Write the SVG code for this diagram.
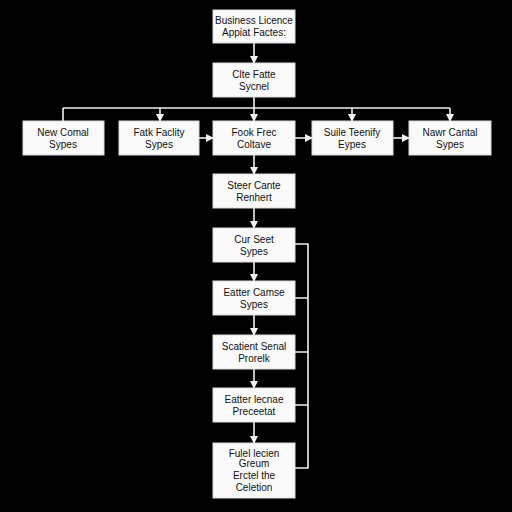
<svg xmlns="http://www.w3.org/2000/svg" width="512" height="512" viewBox="0 0 512 512">
<defs>
<marker id="ah" markerWidth="8" markerHeight="8" refX="7" refY="4" orient="auto" markerUnits="userSpaceOnUse">
<path d="M0,0 L8,4 L0,8 Z" fill="#f2f2f2"/>
</marker>
<style>
.box{fill:#fafafa;stroke:#dcdcdc;stroke-width:1}
.t{font-family:"Liberation Sans","DejaVu Sans",sans-serif;font-size:10px;fill:#111;text-anchor:middle}
.c{stroke:#f0f0f0;stroke-width:1.6;fill:none}
.a{marker-end:url(#ah)}
</style>
</defs>
<rect width="512" height="512" fill="#000"/>
<g id="connectors">
<path class="c a" d="M254,43 V63"/>
<path class="c" d="M254,97 V108 M63,108 H450 M63,108 V121"/>
<path class="c a" d="M160,108 V121"/>
<path class="c a" d="M254,108 V121"/>
<path class="c a" d="M352,108 V121"/>
<path class="c a" d="M450,108 V121"/>
<path class="c a" d="M199,138 H213"/>
<path class="c a" d="M295,138 H312"/>
<path class="c a" d="M393,138 H409"/>
<path class="c a" d="M254,155 V174"/>
<path class="c a" d="M254,208 V228"/>
<path class="c a" d="M254,262 V281"/>
<path class="c a" d="M254,315 V335"/>
<path class="c a" d="M254,369 V388"/>
<path class="c a" d="M254,422 V443"/>
<path class="c" d="M295,244 H308 V468 H295 M295,298 H308 M295,352 H308 M295,405 H308"/>
</g>
<g id="n1"><rect class="box" x="213" y="10" width="82" height="33"/><text class="t" x="254" y="24">Business Licence</text><text class="t" x="254" y="36">Appiat Factes:</text></g>
<g id="n2"><rect class="box" x="213" y="63" width="82" height="34"/><text class="t" x="254" y="78">Clte Fatte</text><text class="t" x="254" y="90">Sycnel</text></g>
<g id="n3"><rect class="box" x="23" y="121" width="81" height="34"/><text class="t" x="63" y="136">New Comal</text><text class="t" x="63" y="148">Sypes</text></g>
<g id="n4"><rect class="box" x="119" y="121" width="80" height="34"/><text class="t" x="159" y="136">Fatk Faclity</text><text class="t" x="159" y="148">Sypes</text></g>
<g id="n5"><rect class="box" x="213" y="121" width="82" height="34"/><text class="t" x="254" y="136">Fook Frec</text><text class="t" x="254" y="148">Coltave</text></g>
<g id="n6"><rect class="box" x="312" y="121" width="81" height="34"/><text class="t" x="352" y="136">Suile Teenify</text><text class="t" x="352" y="148">Eypes</text></g>
<g id="n7"><rect class="box" x="409" y="121" width="82" height="34"/><text class="t" x="450" y="136">Nawr Cantal</text><text class="t" x="450" y="148">Sypes</text></g>
<g id="n8"><rect class="box" x="213" y="174" width="82" height="34"/><text class="t" x="254" y="189">Steer Cante</text><text class="t" x="254" y="201">Renhert</text></g>
<g id="n9"><rect class="box" x="213" y="228" width="82" height="34"/><text class="t" x="254" y="243">Cur Seet</text><text class="t" x="254" y="255">Sypes</text></g>
<g id="n10"><rect class="box" x="213" y="281" width="82" height="34"/><text class="t" x="254" y="296">Eatter Camse</text><text class="t" x="254" y="308">Sypes</text></g>
<g id="n11"><rect class="box" x="213" y="335" width="82" height="34"/><text class="t" x="254" y="350">Scatient Senal</text><text class="t" x="254" y="362">Prorelk</text></g>
<g id="n12"><rect class="box" x="213" y="388" width="82" height="34"/><text class="t" x="254" y="403">Eatter lecnae</text><text class="t" x="254" y="415">Preceetat</text></g>
<g id="n13"><rect class="box" x="213" y="443" width="82" height="55"/><text class="t" x="254" y="457">Fulel lecien</text><text class="t" x="254" y="467">Greum</text><text class="t" x="254" y="479">Erctel the</text><text class="t" x="254" y="491">Celetion</text></g>
</svg>
